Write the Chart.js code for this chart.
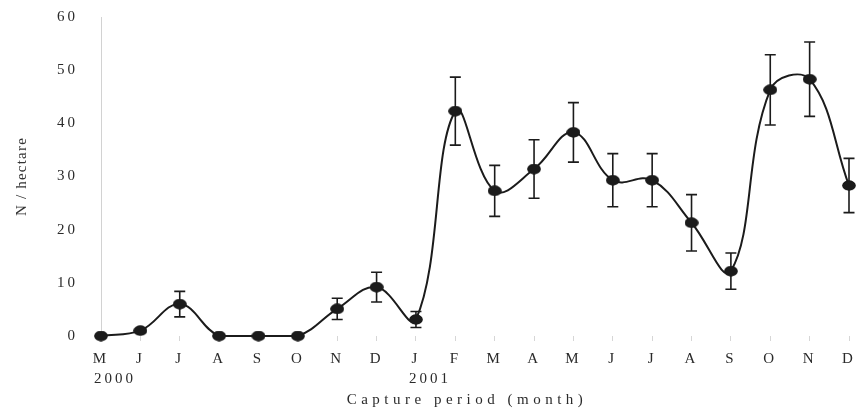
<!DOCTYPE html>
<html>
<head>
<meta charset="utf-8">
<script src="https://cdn.jsdelivr.net/npm/chart.js@4/dist/chart.umd.min.js"></script>
<style>
  html, body { margin: 0; padding: 0; background: #fff; }
  #wrap { width: 856px; height: 411px; position: relative; }
</style>
</head>
<body>
<div id="wrap"><canvas id="chart"></canvas></div>
<script>
// Monthly capture periods, May 2000 to December 2001
const months = ['M','J','J','A','S','O','N','D','J','F','M','A','M','J','J','A','S','O','N','D'];
// Density (individuals per hectare) for each month
const density = [0, 1, 6, 0, 0, 0, 5.1, 9.2, 3.1, 42.3, 27.3, 31.4, 38.3, 29.3, 29.3, 21.3, 12.2, 46.3, 48.3, 28.3];
// Error half-widths (0 = no bar drawn)
const errorSize = [0, 0, 2.4, 0, 0, 0, 2, 2.8, 1.5, 6.4, 4.8, 5.5, 5.6, 5, 5, 5.3, 3.4, 6.6, 7, 5.1];
// Year markers shown beneath the month labels
const yearIndex = [0, 8];
const yearText = ['2000', '2001'];
const yTitle = 'N / hectare';
const xTitle = 'Capture period (month)';

const SERIF = '"Liberation Serif", "DejaVu Serif", serif';
const INK = '#1b1b1b';
const TEXT = '#2a2a2a';

// Slightly flattened dot used as the point marker
function makeDot() {
  const c = document.createElement('canvas');
  c.width = 14; c.height = 11;
  const g = c.getContext('2d');
  g.fillStyle = INK;
  g.beginPath();
  g.ellipse(7, 5.5, 6.6, 5, 0, 0, Math.PI * 2);
  g.fill();
  return c;
}
const dot = makeDot();

const spacing = {
  id: 'spacing',
  beforeLayout(chart) { chart.ctx.letterSpacing = '3px'; },
  beforeDraw(chart) { chart.ctx.letterSpacing = '3px'; }
};

const errorBars = {
  id: 'errorBars',
  afterDatasetsDraw(chart) {
    const ctx = chart.ctx;
    const xs = chart.scales.x, ys = chart.scales.y;
    ctx.save();
    ctx.strokeStyle = INK;
    ctx.lineWidth = 1.6;
    density.forEach((v, i) => {
      const e = errorSize[i];
      if (!e) return;
      const x = xs.getPixelForValue(i);
      const yt = ys.getPixelForValue(v + e);
      const yb = ys.getPixelForValue(v - e);
      ctx.beginPath();
      ctx.moveTo(x, yt); ctx.lineTo(x, yb);
      ctx.moveTo(x - 5.5, yt); ctx.lineTo(x + 5.5, yt);
      ctx.moveTo(x - 5.5, yb); ctx.lineTo(x + 5.5, yb);
      ctx.stroke();
    });
    // markers sit on top of the bars
    const meta = chart.getDatasetMeta(0);
    meta.data.forEach(p => ctx.drawImage(dot, p.x - 7, p.y - 5.5));
    ctx.restore();
  }
};

const extraLabels = {
  id: 'extraLabels',
  afterDraw(chart) {
    const ctx = chart.ctx;
    const xs = chart.scales.x, ys = chart.scales.y;
    ctx.save();
    ctx.fillStyle = TEXT;
    ctx.textBaseline = 'middle';
    ctx.font = '15px ' + SERIF;
    ctx.letterSpacing = '3px';
    ctx.textAlign = 'left';
    yearIndex.forEach((idx, k) => {
      ctx.fillText(yearText[k], xs.getPixelForValue(idx) - 7, 379);
    });
    // horizontal axis title
    ctx.letterSpacing = '4.5px';
    ctx.textAlign = 'center';
    ctx.fillText(xTitle, (xs.left + xs.right) / 2 - 8, 400);
    // rotated vertical axis title
    ctx.letterSpacing = '1.2px';
    ctx.fillStyle = '#333';
    ctx.translate(22, (ys.top + ys.bottom) / 2);
    ctx.rotate(-Math.PI / 2);
    ctx.fillText(yTitle, 0, 0);
    ctx.restore();
  }
};

new Chart(document.getElementById('chart'), {
  type: 'line',
  data: {
    labels: months,
    datasets: [{
      data: density,
      borderColor: INK,
      borderWidth: 2,
      tension: 0.4,
      pointStyle: dot,
      pointRadius: 5,
      clip: false
    }]
  },
  options: {
    responsive: true,
    maintainAspectRatio: false,
    animation: false,
    layout: { padding: { left: 54, right: 7, top: 17, bottom: 34 } },
    plugins: {
      legend: { display: false },
      tooltip: { enabled: false }
    },
    scales: {
      x: {
        offset: false,
        grid: { display: true, drawOnChartArea: false, drawTicks: true, tickLength: 5, color: '#d6d6d6' },
        border: { display: false },
        ticks: {
          autoSkip: false, maxRotation: 0, padding: 9,
          color: TEXT,
          font: { family: SERIF, size: 15 }
        },
        afterFit(scale) { scale.paddingLeft = 0; scale.paddingRight = 0; }
      },
      y: {
        min: 0, max: 60,
        grid: { display: true, drawOnChartArea: false, drawTicks: false },
        border: { display: true, color: '#d2d2d2', width: 1 },
        ticks: {
          stepSize: 10, padding: 23,
          color: TEXT,
          font: { family: SERIF, size: 15 }
        },
        afterFit(scale) { scale.width = 47; scale.paddingTop = 0; scale.paddingBottom = 0; }
      }
    }
  },
  plugins: [spacing, errorBars, extraLabels]
});
</script>
</body>
</html>
